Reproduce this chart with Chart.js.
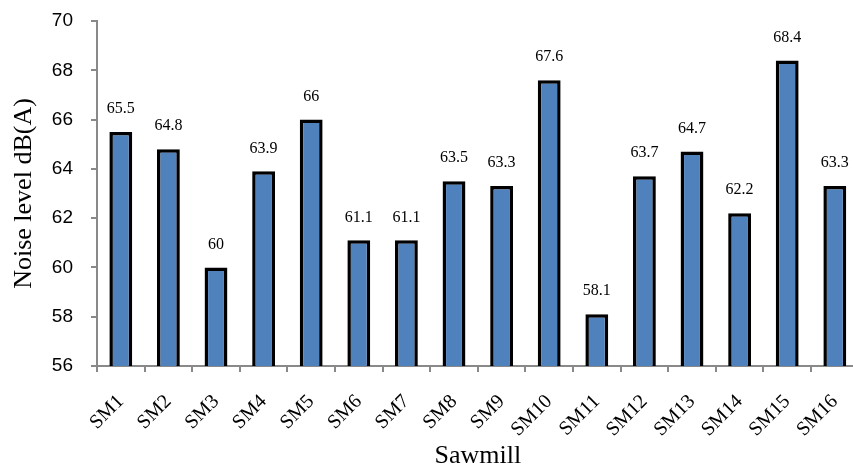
<!DOCTYPE html>
<html>
<head>
<meta charset="utf-8">
<script src="https://cdn.jsdelivr.net/npm/chart.js@4"></script>
<style>
html,body{margin:0;padding:0;background:#fff;overflow:hidden;}
#wrap{width:870px;height:468px;}
</style>
</head>
<body>
<div id="wrap"><canvas id="c" width="870" height="468"></canvas></div>
<script>
const categories = ["SM1","SM2","SM3","SM4","SM5","SM6","SM7","SM8","SM9","SM10","SM11","SM12","SM13","SM14","SM15","SM16"];
const noiseLevels = [65.5,64.8,60,63.9,66,61.1,61.1,63.5,63.3,67.6,58.1,63.7,64.7,62.2,68.4,63.3];
const yTicks = [56,58,60,62,64,66,68,70];
const yTitle = "Noise level dB(A)";
const xTitle = "Sawmill";

const axisGray = "#898989";

const valueLabels = {
  id: 'valueLabels',
  afterDatasetsDraw(chart) {
    const ctx = chart.ctx;
    const meta = chart.getDatasetMeta(0);
    ctx.save();
    ctx.font = '16px "Liberation Serif", "Times New Roman", serif';
    ctx.fillStyle = '#000';
    ctx.textAlign = 'center';
    ctx.textBaseline = 'middle';
    meta.data.forEach((bar, i) => {
      ctx.fillText(String(chart.data.datasets[0].data[i]), bar.x, bar.y - 23);
    });
    ctx.restore();
  }
};

new Chart(document.getElementById('c'), {
  type: 'bar',
  data: {
    labels: categories,
    datasets: [{
      data: noiseLevels,
      backgroundColor: '#4F81BD',
      borderColor: '#000000',
      borderWidth: 3.5,
      borderSkipped: 'start',
      categoryPercentage: 1.0,
      barPercentage: 0.48
    }]
  },
  options: {
    responsive: false,
    animation: false,
    layout: { padding: { left: 0, right: 7, top: 0, bottom: 0 } },
    plugins: { legend: { display: false }, tooltip: { enabled: false } },
    scales: {
      x: {
        afterFit(scale) { scale.height = 102; },
        border: { color: axisGray, width: 2 },
        grid: { drawOnChartArea: false, color: axisGray, lineWidth: 2, tickLength: 6, offset: true },
        ticks: {
          minRotation: 45, maxRotation: 45, padding: 18,
          color: '#000',
          font: { family: '"Liberation Serif", "Times New Roman", serif', size: 20 }
        },
        title: {
          display: true, text: xTitle, color: '#000',
          font: { family: '"Liberation Serif", "Times New Roman", serif', size: 26 },
          padding: { top: 0, bottom: -4 }
        }
      },
      y: {
        min: 56, max: 70,
        afterFit(scale) { scale.width = 97; scale.paddingTop = 21; scale.paddingBottom = 0; },
        afterBuildTicks(scale) { scale.ticks = yTicks.map(v => ({ value: v })); },
        border: { color: axisGray, width: 2 },
        grid: { drawOnChartArea: false, color: axisGray, lineWidth: 2, tickLength: 6 },
        ticks: {
          padding: 18, color: '#000',
          font: { family: '"Liberation Sans", Arial, sans-serif', size: 19 }
        },
        title: {
          display: true, text: yTitle, color: '#000',
          font: { family: '"Liberation Serif", "Times New Roman", serif', size: 26 },
          padding: { top: 9, bottom: 0 }
        }
      }
    }
  },
  plugins: [valueLabels]
});
</script>
</body>
</html>
